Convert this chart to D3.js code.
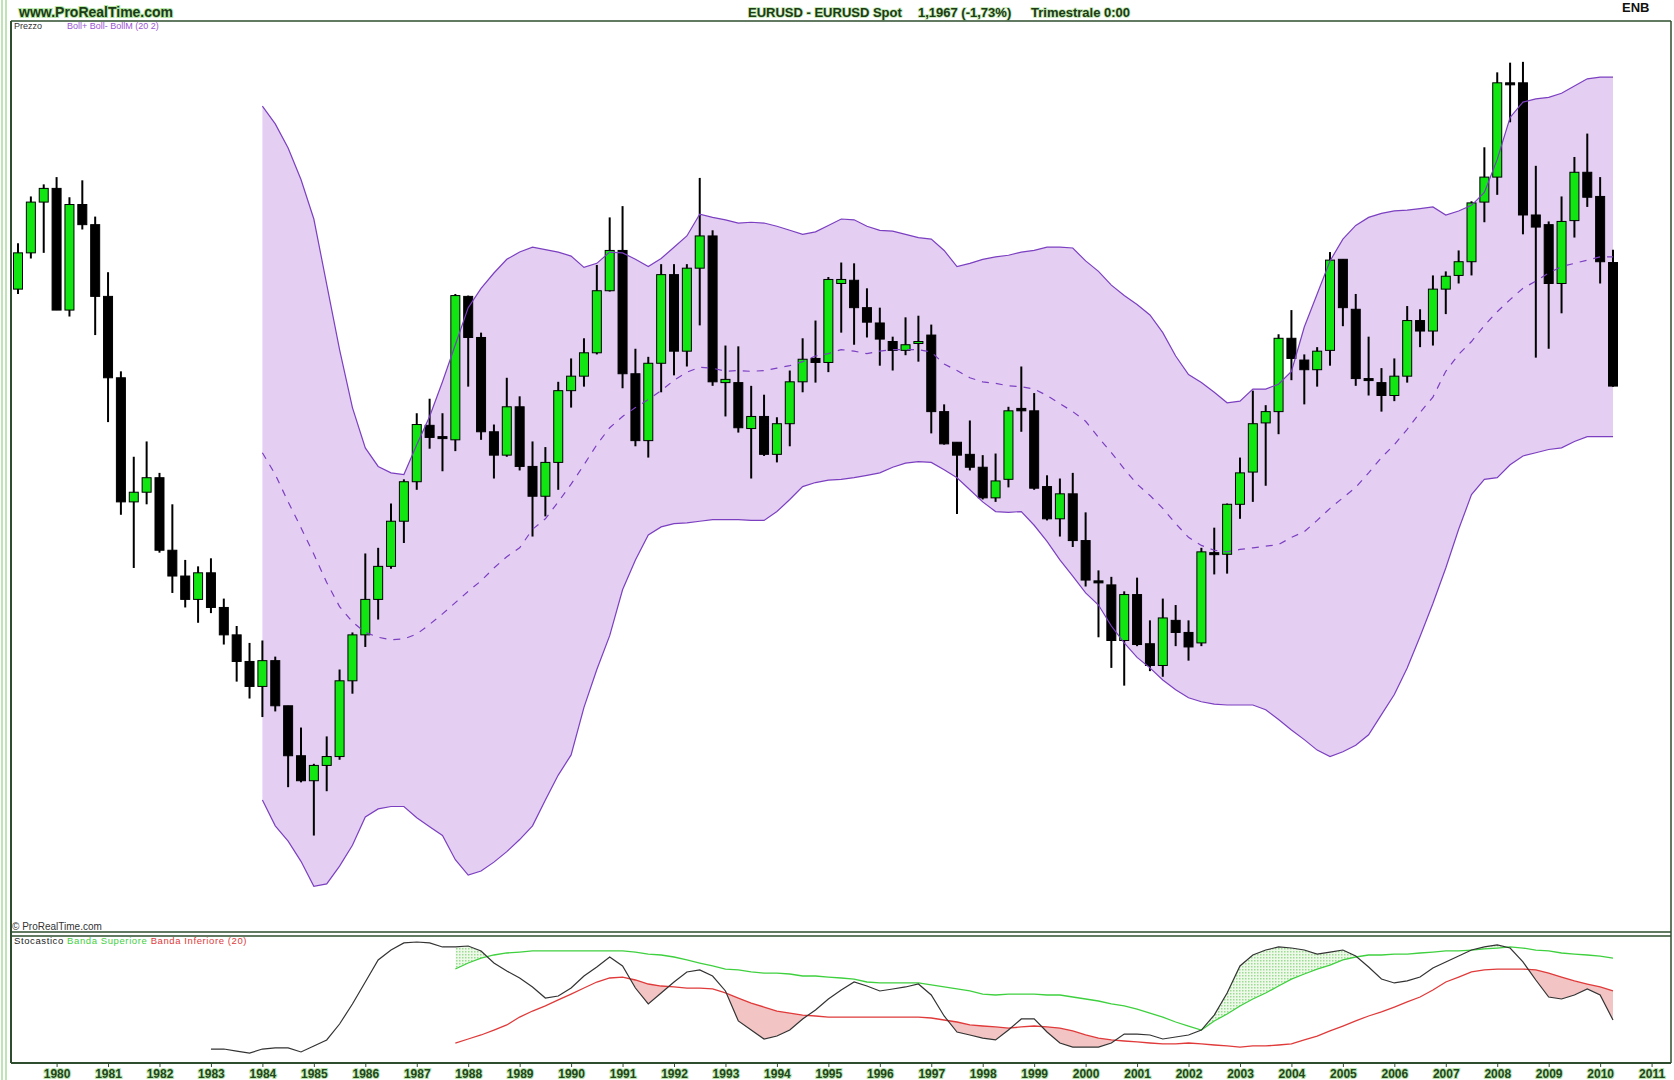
<!DOCTYPE html>
<html>
<head>
<meta charset="utf-8">
<script src="https://cdn.jsdelivr.net/npm/d3@7"></script>
<style>
  body { margin: 0; background: #fff; }
  svg { display: block; font-family: "Liberation Sans", Arial, sans-serif; }
</style>
</head>
<body>
<div id="chart"></div>
<script>
// quarterly EUR/USD candles, first one is 1979 Q2, last one 2010 Q2
const years = d3.range(1980, 2012);
const firstYearIdx = 3; // candle index of 1980 Q1

const open = [1.317,1.362,1.425,1.442,1.291,1.422,1.397,1.308,1.207,1.053,
  1.065,1.083,0.993,0.961,0.932,0.965,0.922,0.888,0.855,0.824,
  0.856,0.800,0.738,0.707,0.726,0.737,0.831,0.888,0.932,0.973,
  1.029,1.078,1.148,1.134,1.130,1.308,1.257,1.140,1.111,1.171,
  1.097,1.060,1.102,1.191,1.209,1.238,1.315,1.365,1.212,1.129,
  1.225,1.335,1.240,1.343,1.383,1.201,1.201,1.144,1.159,1.112,
  1.150,1.202,1.231,1.226,1.324,1.328,1.294,1.275,1.252,1.241,
  1.250,1.260,1.165,1.127,1.112,1.096,1.058,1.081,1.169,1.166,
  1.072,1.032,1.063,1.005,0.955,0.950,0.881,0.938,0.877,0.850,
  0.906,0.891,0.878,0.990,0.988,1.050,1.090,1.151,1.165,1.256,
  1.229,1.217,1.241,1.354,1.292,1.206,1.201,1.185,1.209,1.278,
  1.265,1.317,1.334,1.351,1.425,1.456,1.573,1.573,1.409,1.397,
  1.324,1.402,1.462,1.432,1.350];
const high = [1.374,1.432,1.447,1.456,1.431,1.452,1.407,1.338,1.215,1.109,
  1.128,1.089,1.050,0.981,0.973,0.983,0.933,0.899,0.878,0.881,
  0.861,0.800,0.773,0.728,0.762,0.845,0.891,0.989,0.996,1.051,
  1.081,1.163,1.181,1.163,1.311,1.309,1.263,1.149,1.207,1.184,
  1.128,1.121,1.202,1.231,1.256,1.347,1.406,1.420,1.243,1.233,
  1.348,1.348,1.348,1.455,1.390,1.247,1.246,1.197,1.186,1.158,
  1.216,1.256,1.278,1.332,1.350,1.349,1.318,1.294,1.258,1.282,
  1.284,1.273,1.174,1.127,1.154,1.111,1.113,1.171,1.221,1.188,
  1.086,1.082,1.089,1.040,0.968,0.960,0.942,0.959,0.906,0.933,
  0.925,0.906,0.996,1.021,1.051,1.108,1.191,1.173,1.261,1.291,
  1.236,1.245,1.363,1.354,1.311,1.258,1.219,1.231,1.296,1.292,
  1.334,1.339,1.365,1.426,1.493,1.586,1.598,1.599,1.470,1.401,
  1.432,1.481,1.510,1.456,1.366];
const low = [1.311,1.355,1.362,1.291,1.283,1.391,1.260,1.152,1.037,0.971,
  1.050,0.990,0.940,0.922,0.903,0.915,0.876,0.830,0.809,0.786,
  0.793,0.699,0.705,0.639,0.694,0.733,0.815,0.873,0.907,0.970,
  1.002,1.068,1.119,1.091,1.116,1.196,1.130,1.082,1.109,1.092,
  1.010,1.035,1.068,1.170,1.196,1.236,1.314,1.194,1.122,1.108,
  1.189,1.210,1.221,1.272,1.197,1.159,1.139,1.082,1.110,1.102,
  1.122,1.189,1.201,1.214,1.263,1.248,1.257,1.222,1.216,1.235,
  1.227,1.138,1.124,1.038,1.092,1.056,1.053,1.071,1.140,1.068,
  1.030,1.010,0.997,0.948,0.885,0.847,0.825,0.874,0.843,0.836,
  0.874,0.856,0.874,0.963,0.964,1.032,1.053,1.073,1.137,1.204,
  1.174,1.196,1.222,1.271,1.197,1.185,1.165,1.178,1.201,1.245,
  1.247,1.286,1.324,1.334,1.400,1.434,1.524,1.385,1.232,1.243,
  1.287,1.381,1.419,1.324,1.196];
const close = [1.362,1.425,1.442,1.291,1.422,1.397,1.308,1.207,1.053,1.065,
  1.083,0.993,0.961,0.932,0.965,0.922,0.888,0.855,0.824,0.856,
  0.800,0.738,0.707,0.726,0.737,0.831,0.888,0.932,0.973,1.029,
  1.078,1.149,1.133,1.132,1.309,1.257,1.140,1.111,1.171,1.097,
  1.060,1.102,1.191,1.209,1.238,1.315,1.365,1.212,1.129,1.225,
  1.335,1.240,1.343,1.383,1.202,1.205,1.145,1.159,1.112,1.150,
  1.202,1.230,1.226,1.329,1.329,1.294,1.276,1.255,1.241,1.248,
  1.252,1.165,1.125,1.111,1.096,1.058,1.079,1.166,1.166,1.070,
  1.032,1.063,1.005,0.956,0.953,0.881,0.938,0.876,0.850,0.909,
  0.891,0.873,0.991,0.988,1.050,1.089,1.150,1.165,1.256,1.231,
  1.217,1.240,1.353,1.294,1.206,1.204,1.185,1.209,1.278,1.265,
  1.317,1.333,1.351,1.424,1.456,1.573,1.571,1.409,1.394,1.324,
  1.401,1.462,1.431,1.351,1.1967];

// Bollinger (20, 2), first value on candle 19
const bollStart = 19;
const bollUp = [1.544,1.522,1.492,1.453,1.404,1.323,1.242,1.170,1.120,1.097,
  1.089,1.087,1.124,1.159,1.202,1.248,1.294,1.318,1.337,1.354,
  1.363,1.369,1.366,1.363,1.358,1.344,1.349,1.363,1.362,1.354,
  1.345,1.355,1.369,1.383,1.410,1.406,1.403,1.399,1.400,1.399,
  1.395,1.390,1.385,1.388,1.396,1.404,1.403,1.395,1.390,1.389,
  1.385,1.381,1.379,1.365,1.345,1.349,1.354,1.357,1.359,1.363,
  1.365,1.369,1.369,1.368,1.352,1.339,1.322,1.309,1.298,1.285,
  1.263,1.234,1.211,1.201,1.189,1.176,1.178,1.193,1.193,1.199,
  1.215,1.270,1.311,1.352,1.379,1.396,1.406,1.411,1.414,1.415,
  1.417,1.419,1.409,1.414,1.421,1.437,1.478,1.530,1.549,1.553,
  1.555,1.560,1.569,1.578,1.580,1.580];
const bollMid = [1.114,1.087,1.053,1.021,0.988,0.953,0.923,0.904,0.891,0.885,
  0.882,0.883,0.889,0.901,0.914,0.928,0.942,0.955,0.971,0.985,
  0.996,1.019,1.032,1.053,1.075,1.099,1.124,1.145,1.159,1.170,
  1.180,1.191,1.204,1.214,1.220,1.219,1.215,1.216,1.215,1.216,
  1.219,1.222,1.227,1.234,1.237,1.242,1.240,1.237,1.240,1.242,
  1.242,1.242,1.239,1.224,1.216,1.207,1.202,1.200,1.197,1.196,
  1.193,1.185,1.175,1.165,1.153,1.133,1.114,1.094,1.075,1.061,
  1.045,1.026,1.009,0.999,0.993,0.991,0.994,0.996,0.998,1.000,
  1.009,1.016,1.030,1.045,1.058,1.071,1.089,1.108,1.124,1.143,
  1.164,1.183,1.215,1.236,1.252,1.272,1.289,1.304,1.318,1.327,
  1.337,1.345,1.349,1.353,1.357,1.357];
const bollDn = [0.683,0.651,0.632,0.607,0.576,0.579,0.601,0.627,0.662,0.672,
  0.675,0.675,0.661,0.650,0.639,0.609,0.590,0.595,0.606,0.619,
  0.634,0.651,0.683,0.714,0.739,0.798,0.845,0.887,0.944,0.981,
  1.012,1.022,1.026,1.027,1.029,1.031,1.031,1.031,1.030,1.030,
  1.041,1.056,1.072,1.077,1.080,1.081,1.083,1.086,1.089,1.096,
  1.101,1.103,1.102,1.093,1.083,1.068,1.053,1.041,1.040,1.041,
  1.024,1.004,0.981,0.961,0.940,0.925,0.899,0.878,0.860,0.847,
  0.832,0.820,0.810,0.805,0.802,0.801,0.801,0.801,0.795,0.783,
  0.770,0.758,0.745,0.737,0.743,0.751,0.764,0.789,0.814,0.847,
  0.886,0.927,0.971,1.019,1.062,1.081,1.083,1.099,1.110,1.114,
  1.118,1.120,1.128,1.134,1.134,1.134];

// Stocastico, first value on candle 15
const stochStart = 15;
const stoch = [7.6,7.6,5.9,4.2,7.6,8.5,8.5,5.1,10.2,15.3,
  28.8,45.8,64.4,83.1,91.5,97.5,98.3,97.5,94.1,94.1,
  94.9,90.7,80.5,73.7,67.8,60.2,50.8,52.5,59.3,69.5,
  77.1,85.6,78.0,59.3,45.8,55.1,64.4,72.9,74.6,69.5,
  56.8,31.4,23.7,16.1,18.6,23.7,33.1,40.7,50.0,57.6,
  64.4,61.0,56.8,58.5,60.2,62.7,53.4,35.6,22.0,19.5,
  16.9,15.3,23.7,33.1,33.1,22.0,12.7,9.3,9.3,9.3,
  12.7,20.3,20.3,19.5,16.1,17.8,19.5,23.7,36.4,55.1,
  78.0,87.3,91.5,94.1,93.2,91.5,88.1,89.8,91.5,86.4,
  77.1,66.9,63.6,65.3,68.6,76.3,81.4,86.4,91.5,94.1,
  95.8,93.2,81.4,66.1,51.7,50.0,53.4,58.5,53.4,32.2];
// Banda Superiore / Banda Inferiore (20), first value on candle 34
const bandStart = 34;
const bandSup = [75.4,80.5,84.7,87.3,89.0,89.8,90.7,90.7,90.7,90.7,
  90.7,90.7,90.7,90.7,89.8,88.1,87.3,85.6,83.1,80.5,
  78.0,75.4,74.6,72.9,72.0,72.0,71.2,69.5,69.5,68.6,
  67.8,66.9,64.4,63.6,63.6,63.6,63.6,61.9,60.2,58.5,
  56.8,54.2,53.4,54.2,54.2,54.2,53.4,53.4,51.7,50.0,
  48.3,45.8,44.1,41.5,38.1,34.7,30.5,27.1,23.7,31.4,
  37.3,44.1,50.0,55.1,61.0,66.9,71.2,75.4,78.8,83.1,
  85.6,87.3,87.3,88.1,88.1,89.0,89.8,90.7,90.7,91.5,
  92.4,93.2,94.1,93.2,91.5,90.7,89.0,88.1,87.3,86.4,
  84.7];
const bandInf = [12.7,16.1,19.5,23.7,28.0,34.7,39.8,44.1,49.2,54.2,
  59.3,64.4,67.8,68.6,66.1,62.7,61.0,60.2,59.3,59.3,
  58.5,55.1,50.8,46.6,43.2,39.8,38.1,36.4,35.6,34.7,
  34.7,34.7,34.7,34.7,34.7,34.7,34.7,33.9,32.2,30.5,
  28.0,27.1,26.3,25.4,26.3,27.1,26.3,25.4,22.9,19.5,
  16.9,15.3,14.4,13.6,12.7,11.9,11.9,12.7,11.9,11.0,
  10.2,9.3,10.2,10.2,11.0,11.9,15.3,18.6,22.9,27.1,
  31.4,35.6,39.0,43.2,47.5,51.7,57.6,64.4,68.6,72.9,
  74.6,75.4,75.4,75.4,74.6,72.0,68.6,65.3,62.7,60.2,
  56.8];

const w = 1674;
const h = 1080;
const panel = { left: 11, right: 1671, top: 21, bottom: 932, sTop: 936, sBottom: 1063 };
const border = "#2e4d2e";
const boll = "#7b3fc0";

const svg = d3.select("#chart").append("svg").attr("width", w).attr("height", h);
const x = d3.scaleLinear().domain([0, open.length - 1]).range([18, 1613]);
const y = d3.scaleLinear().domain([0.5193, 1.6497]).range([panel.bottom, panel.top]);
const ys = d3.scaleLinear().domain([0, 100]).range([1058, 940]);

// dotted fill used above the upper stochastic band
const pat = svg.append("defs").append("pattern").attr("id", "dots")
  .attr("width", 3).attr("height", 3).attr("patternUnits", "userSpaceOnUse");
pat.append("rect").attr("width", 3).attr("height", 3).attr("fill", "#eef9ea");
pat.append("rect").attr("width", 1.5).attr("height", 1.5).attr("fill", "#9bdc93");

// left margin stripes
[1, 5].forEach((sx) => svg.append("rect").attr("x", sx).attr("y", 0).attr("width", 2).attr("height", h).attr("fill", "#bfe3b6"));

// header
svg.append("text").attr("x", 19).attr("y", 17).attr("font-size", 14).attr("font-weight", "bold")
  .attr("fill", "#1d3b16").attr("stroke", "#b6e8a8").attr("stroke-width", 2).attr("paint-order", "stroke")
  .text("www.ProRealTime.com");
const title = [["EURUSD - EURUSD Spot", 748], ["1,1967 (-1,73%)", 918], ["Trimestrale 0:00", 1031]];
title.forEach(([t, tx]) => svg.append("text").attr("x", tx).attr("y", 17).attr("font-size", 13).attr("font-weight", "bold")
  .attr("fill", "#1d3b16").attr("stroke", "#bfe8b0").attr("stroke-width", 1.6).attr("paint-order", "stroke").text(t));
svg.append("text").attr("x", 1622).attr("y", 12).attr("font-size", 13).attr("font-weight", "bold").attr("fill", "#111").text("ENB");

// clip for main panel
svg.append("clipPath").attr("id", "main-clip").append("rect")
  .attr("x", panel.left).attr("y", panel.top).attr("width", panel.right - panel.left).attr("height", panel.bottom - panel.top);
const main = svg.append("g").attr("clip-path", "url(#main-clip)");

// bollinger band fill
const bi = d3.range(bollUp.length);
main.append("path").datum(bi)
  .attr("d", d3.area().x((i) => x(i + bollStart)).y0((i) => y(bollDn[i])).y1((i) => y(bollUp[i])))
  .attr("fill", "#e4cff3");

// candles
const ci = d3.range(open.length);
const candles = main.append("g").selectAll("g").data(ci).enter().append("g");
candles.append("line")
  .attr("x1", (i) => x(i)).attr("x2", (i) => x(i))
  .attr("y1", (i) => y(high[i])).attr("y2", (i) => y(low[i]))
  .attr("stroke", "#000").attr("stroke-width", 2);
candles.append("rect")
  .attr("x", (i) => x(i) - 4.5)
  .attr("width", 9)
  .attr("y", (i) => y(Math.max(open[i], close[i])))
  .attr("height", (i) => Math.max(2, Math.abs(y(open[i]) - y(close[i]))))
  .attr("fill", (i) => (close[i] >= open[i] ? "#12e612" : "#000"))
  .attr("stroke", "#000").attr("stroke-width", 1);

// bollinger lines
const bLine = (arr) => d3.line().x((i) => x(i + bollStart)).y((i) => y(arr[i]));
main.append("path").datum(bi).attr("d", bLine(bollUp)).attr("fill", "none").attr("stroke", boll).attr("stroke-width", 1.2);
main.append("path").datum(bi).attr("d", bLine(bollDn)).attr("fill", "none").attr("stroke", boll).attr("stroke-width", 1.2);
main.append("path").datum(bi).attr("d", bLine(bollMid)).attr("fill", "none").attr("stroke", boll).attr("stroke-width", 1.2)
  .attr("stroke-dasharray", "7,7");

// main panel labels
svg.append("text").attr("x", 14).attr("y", 29).attr("font-size", 9).attr("fill", "#333").text("Prezzo");
svg.append("text").attr("x", 67).attr("y", 29).attr("font-size", 9).attr("fill", "#9a55d6").text("Boll+ Boll- BollM (20 2)");
svg.append("text").attr("x", 12).attr("y", 930).attr("font-size", 10).attr("fill", "#333").text("© ProRealTime.com");

// stochastic panel
const si = d3.range(stoch.length);
const ki = d3.range(bandSup.length);
const stochAt = (i) => stoch[i + bandStart - stochStart];
svg.append("clipPath").attr("id", "below-inf").append("path").datum(ki)
  .attr("d", d3.area().x((i) => x(i + bandStart)).y0(panel.sBottom).y1((i) => ys(bandInf[i])));
svg.append("clipPath").attr("id", "above-sup").append("path").datum(ki)
  .attr("d", d3.area().x((i) => x(i + bandStart)).y0(panel.sTop).y1((i) => ys(bandSup[i])));
svg.append("path").datum(ki).attr("clip-path", "url(#below-inf)")
  .attr("d", d3.area().x((i) => x(i + bandStart)).y0(panel.sTop).y1((i) => ys(stochAt(i))))
  .attr("fill", "#f3c4c4");
svg.append("path").datum(ki).attr("clip-path", "url(#above-sup)")
  .attr("d", d3.area().x((i) => x(i + bandStart)).y0(panel.sBottom).y1((i) => ys(stochAt(i))))
  .attr("fill", "url(#dots)");

const kLine = (arr) => d3.line().x((i) => x(i + bandStart)).y((i) => ys(arr[i]));
svg.append("path").datum(ki).attr("d", kLine(bandSup)).attr("fill", "none").attr("stroke", "#3fd03f").attr("stroke-width", 1.3);
svg.append("path").datum(ki).attr("d", kLine(bandInf)).attr("fill", "none").attr("stroke", "#e03a3a").attr("stroke-width", 1.3);
svg.append("path").datum(si).attr("d", d3.line().x((i) => x(i + stochStart)).y((i) => ys(stoch[i])))
  .attr("fill", "none").attr("stroke", "#333").attr("stroke-width", 1.2);

const leg = svg.append("text").attr("x", 14).attr("y", 944).attr("font-size", 9.5).attr("letter-spacing", 0.6);
leg.append("tspan").attr("fill", "#222").text("Stocastico ");
leg.append("tspan").attr("fill", "#3fd03f").text("Banda Superiore ");
leg.append("tspan").attr("fill", "#e03a3a").text("Banda Inferiore (20)");

// borders
svg.append("line").attr("x1", panel.left).attr("x2", panel.right).attr("y1", panel.top).attr("y2", panel.top).attr("stroke", border).attr("stroke-width", 1.5);
svg.append("line").attr("x1", panel.left).attr("x2", panel.right).attr("y1", panel.bottom).attr("y2", panel.bottom).attr("stroke", border).attr("stroke-width", 1.5);
svg.append("line").attr("x1", panel.left).attr("x2", panel.right).attr("y1", panel.sTop).attr("y2", panel.sTop).attr("stroke", border).attr("stroke-width", 1.5);
svg.append("line").attr("x1", panel.left).attr("x2", panel.left).attr("y1", panel.top).attr("y2", panel.sBottom).attr("stroke", border).attr("stroke-width", 2);
svg.append("line").attr("x1", panel.right).attr("x2", panel.right).attr("y1", panel.top).attr("y2", panel.sBottom).attr("stroke", border).attr("stroke-width", 1.5);

// time axis
const axis = svg.append("g").attr("transform", `translate(0,${panel.sBottom})`)
  .call(d3.axisBottom(x)
    .tickValues(years.map((yr) => firstYearIdx + 4 * (yr - 1980)))
    .tickFormat((d) => years[(d - firstYearIdx) / 4])
    .tickSize(4).tickPadding(2).tickSizeOuter(0));
axis.select(".domain").remove();
axis.selectAll(".tick line").attr("stroke", border);
axis.selectAll(".tick text").attr("font-size", 12).attr("font-weight", "bold").attr("fill", "#24451c")
  .attr("stroke", "#b9e6ad").attr("stroke-width", 2).attr("paint-order", "stroke")
  .attr("font-family", "'Liberation Sans', Arial, sans-serif");
svg.append("line").attr("x1", panel.left).attr("x2", panel.right).attr("y1", panel.sBottom).attr("y2", panel.sBottom).attr("stroke", border).attr("stroke-width", 2);
</script>
</body>
</html>
